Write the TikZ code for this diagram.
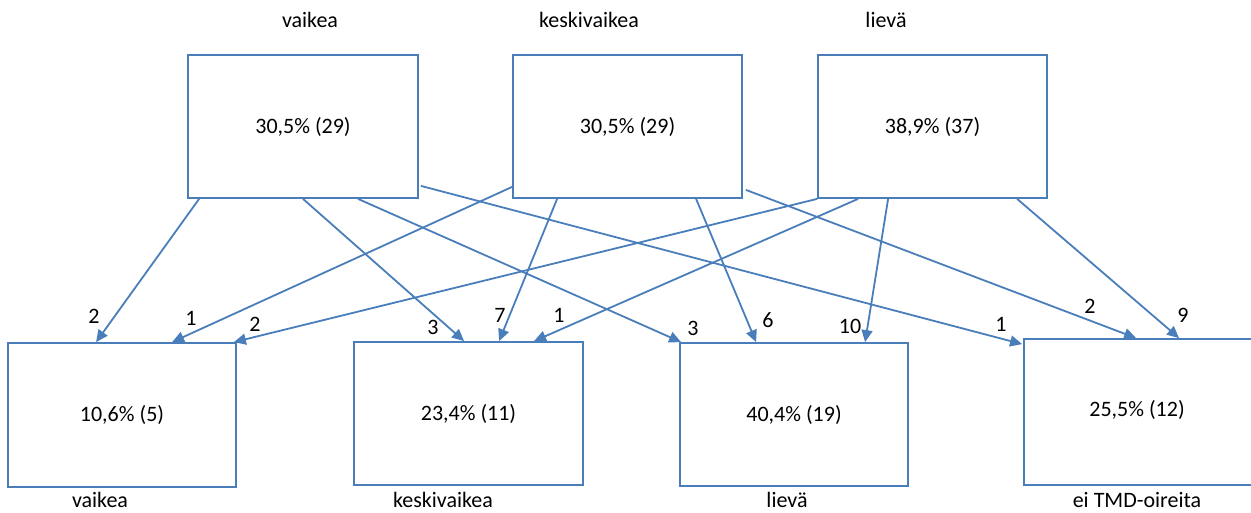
\documentclass[tikz,border=0pt]{standalone}
\usepackage{fontspec}
\setmainfont{Carlito}
\usetikzlibrary{arrows.meta}
\definecolor{lineblue}{RGB}{74,126,187}
\tikzset{
  box/.style={draw=lineblue, line width=1.8pt, inner sep=0pt, fill=white},
  arr/.style={draw=lineblue, line width=1.8pt, -{Triangle[length=12pt,width=11pt]}},
  lbl/.style={inner sep=0pt, font=\fontsize{22}{26}\selectfont},
  num/.style={inner sep=0pt, font=\fontsize{22}{26}\selectfont},
}
\begin{document}
\begin{tikzpicture}[x=1pt,y=-1pt]
\useasboundingbox (0,0) rectangle (1251,513);
% top boxes
\node[box, minimum width=230pt, minimum height=143pt] (b1) at (303,126.5) {};
\node[box, minimum width=229pt, minimum height=143pt] (b2) at (627.5,126.5) {};
\node[box, minimum width=229pt, minimum height=143pt] (b3) at (932.5,126.5) {};
% bottom boxes
\node[box, minimum width=228pt, minimum height=144pt] (b4) at (122,415) {};
\node[box, minimum width=229pt, minimum height=143pt] (b5) at (468.5,413.5) {};
\node[box, minimum width=228pt, minimum height=143pt] (b6) at (794,414.5) {};
\node[box, minimum width=230pt, minimum height=146pt] (b7) at (1139,412) {};
% box texts
\node[lbl] (t1) at (b1.center) {30,5\% (29)};
\node[lbl] (t2) at (b2.center) {30,5\% (29)};
\node[lbl] (t3) at (b3.center) {38,9\% (37)};
\node[lbl] (t4) at (b4.center) {10,6\% (5)};
\node[lbl] (t5) at (b5.center) {23,4\% (11)};
\node[lbl] (t6) at (b6.center) {40,4\% (19)};
\node[lbl] (t7) at (1137,410) {25,5\% (12)};
% titles
\node[lbl] (h1) at (310,20) {vaikea};
\node[lbl] (h2) at (589,20) {keskivaikea};
\node[lbl] (h3) at (886,20) {lievä};
\node[lbl] (f1) at (100,500) {vaikea};
\node[lbl] (f2) at (443,500) {keskivaikea};
\node[lbl] (f3) at (787,500) {lievä};
\node[lbl] (f4) at (1137,500) {ei TMD-oireita};
% connectors
\draw[arr] ([xshift=12pt]b1.south west) -- ([xshift=89pt]b4.north west);
\draw[arr] ([yshift=12pt]b2.south west) -- ([xshift=165pt]b4.north west);
\draw[arr] (b3.south west) -- ([xshift=-3pt]b4.north east);
\draw[arr] (b1.south) -- ([xshift=111pt]b5.north west);
\draw[arr] ([xshift=55pt]b1.south) -- ([xshift=2pt]b6.north west);
\draw[arr] ([xshift=2pt,yshift=13pt]b1.south east) -- ([xshift=-1pt,yshift=-6pt]b7.north west);
\draw[arr] ([xshift=45pt]b2.south west) -- ([xshift=146pt]b5.north west);
\draw[arr] ([xshift=41pt]b3.south west) -- ([xshift=181pt]b5.north west);
\draw[arr] ([xshift=184pt]b2.south west) -- ([xshift=77pt]b6.north west);
\draw[arr] ([xshift=3pt,yshift=9pt]b2.south east) -- ([xshift=113pt]b7.north west);
\draw[arr] ([xshift=71pt]b3.south west) -- ([xshift=186pt]b6.north west);
\draw[arr] ([xshift=200pt]b3.south west) -- ([xshift=156pt]b7.north west);
% counts
\node[num] (n1) at (94,316) {2};
\node[num] (n2) at (191,318) {1};
\node[num] (n3) at (255,324) {2};
\node[num] (n4) at (433,327) {3};
\node[num] (n5) at (500,315) {7};
\node[num] (n6) at (559,315) {1};
\node[num] (n7) at (693,328) {3};
\node[num] (n8) at (768,320) {6};
\node[num] (n9) at (850,326) {10};
\node[num] (n10) at (1001,324) {1};
\node[num] (n11) at (1090,306) {2};
\node[num] (n12) at (1183,315) {9};
\end{tikzpicture}
\end{document}
